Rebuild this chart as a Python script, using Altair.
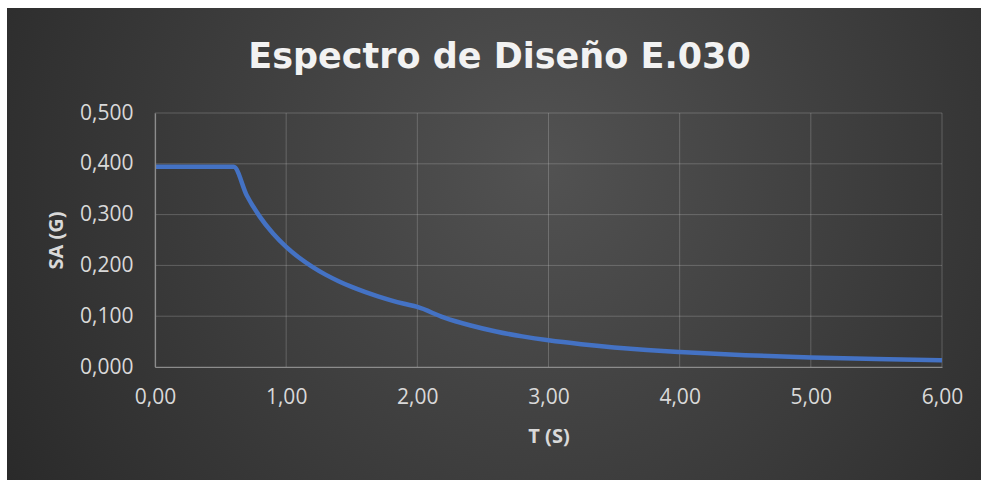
import altair as alt
import pandas as pd

# Periods T (s) and spectral accelerations Sa (g)
T = [0.0, 0.6, 0.7, 0.8, 0.9, 1.0, 1.1, 1.2, 1.3, 1.4, 1.5, 1.6, 1.7, 1.8, 1.9, 2.0,
     2.2, 2.4, 2.6, 2.8, 3.0, 3.25, 3.5, 3.75, 4.0, 4.5, 5.0, 5.5, 6.0]
SA = [0.394, 0.394, 0.3377, 0.2955, 0.2627, 0.2364, 0.2149, 0.1970, 0.1818, 0.1689,
      0.1576, 0.1478, 0.1391, 0.1313, 0.1244, 0.1182,
      0.0977, 0.0821, 0.0699, 0.0603, 0.0525, 0.0448, 0.0386, 0.0336, 0.0296,
      0.0233, 0.0189, 0.0156, 0.0131]

X_TICKS = [0, 1, 2, 3, 4, 5, 6]
Y_TICKS = [0.0, 0.1, 0.2, 0.3, 0.4, 0.5]

TITLE = "Espectro de Diseño E.030"
X_TITLE = "T (S)"
Y_TITLE = "SA (G)"

df = pd.DataFrame({"T": T, "SA": SA})
xt = pd.DataFrame({"T": X_TICKS})
yt = pd.DataFrame({"SA": Y_TICKS})

xscale = alt.Scale(domain=[0, 6], nice=False, zero=False)
yscale = alt.Scale(domain=[0, 0.5], nice=False)

xaxis = alt.Axis(
    title=X_TITLE, values=X_TICKS, grid=False, ticks=False,
    domain=True, domainColor="#8c8c8c", domainWidth=1.2,
    labelExpr="replace(format(datum.value, '.2f'), '.', ',')",
    labelFont="Open Sans", labelFontSize=21, labelColor="#d9d9d9",
    labelPadding=19, labelFlush=False, labelOverlap=False,
    titleFont="Open Sans", titleFontSize=20, titleFontWeight="bold",
    titleColor="#d9d9d9", titlePadding=19, zindex=1,
)
yaxis = alt.Axis(
    title=Y_TITLE, values=Y_TICKS, grid=False, ticks=False,
    domain=True, domainColor="#8c8c8c", domainWidth=1.2,
    labelExpr="replace(format(datum.value, '.3f'), '.', ',')",
    labelFont="Open Sans", labelFontSize=21, labelColor="#d9d9d9",
    labelPadding=22, labelFlush=False, labelOverlap=False,
    titleFont="Open Sans", titleFontSize=20, titleFontWeight="bold",
    titleColor="#d9d9d9", titlePadding=13, zindex=1,
)

bg = alt.Chart(alt.Data(values=[{"a": 1}])).mark_rect(
    fill={
        "gradient": "radial",
        "x1": 0.55, "y1": 0.42, "r1": 0,
        "x2": 0.55, "y2": 0.42, "r2": 0.75,
        "stops": [
            {"offset": 0, "color": "#525252"},
            {"offset": 1, "color": "#232323"},
        ],
    },
).encode(
    x=alt.value(-148), x2=alt.value(826), y=alt.value(-105), y2=alt.value(367)
)

vgrid = alt.Chart(xt).mark_rule(color="#d9d9d9", opacity=0.25, strokeWidth=1).encode(
    x=alt.X("T:Q", scale=xscale, axis=xaxis)
)
hgrid = alt.Chart(yt).mark_rule(color="#d9d9d9", opacity=0.25, strokeWidth=1).encode(
    y=alt.Y("SA:Q", scale=yscale, axis=yaxis)
)

line = alt.Chart(df).mark_line(
    color="#4472C4", strokeWidth=4.5, interpolate="monotone"
).encode(
    x=alt.X("T:Q", scale=xscale, axis=xaxis),
    y=alt.Y("SA:Q", scale=yscale, axis=yaxis),
)

chart = alt.layer(bg, vgrid, hgrid, line).properties(
    width=787,
    height=254,
    title=alt.TitleParams(
        text=TITLE, font="DejaVu Sans", fontSize=35, fontWeight="bold",
        color="#f2f2f2", anchor="middle", frame="group", dx=-49,
        baseline="alphabetic", offset=-95,
    ),
    autosize=alt.AutoSizeParams(type="none"),
    padding={"left": 155, "top": 113, "right": 39, "bottom": 113},
).configure(
    background="white"
).configure_view(stroke=None)

chart.save("out.html", embed_options={"renderer": "svg", "actions": False})
